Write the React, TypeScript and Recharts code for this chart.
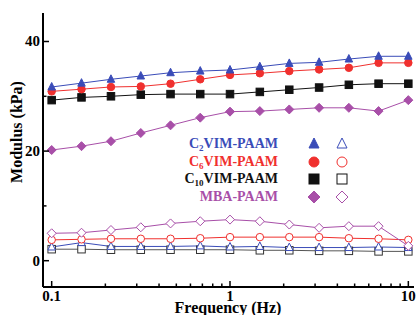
import { LineChart, Line, XAxis, YAxis } from 'recharts';

// frequency points (Hz), 6 per decade
const freqs = [0.1, 0.147, 0.215, 0.316, 0.464, 0.681, 1, 1.47, 2.15, 3.16, 4.64, 6.81, 10];

// storage modulus (filled symbols), kPa
const c2Storage = [31.7, 32.4, 33.1, 33.7, 34.3, 34.6, 34.8, 35.4, 36.0, 36.2, 36.8, 37.3, 37.3];
const c6Storage = [30.9, 31.3, 31.7, 31.8, 32.3, 33.1, 33.9, 34.2, 34.6, 34.9, 35.2, 36.1, 36.1];
const c10Storage = [29.3, 29.8, 30.0, 30.3, 30.4, 30.4, 30.4, 30.8, 31.2, 31.6, 32.1, 32.3, 32.3];
const mbaStorage = [20.2, 20.9, 21.8, 23.3, 24.7, 26.1, 27.2, 27.3, 27.6, 27.9, 27.9, 27.3, 29.3];

// loss modulus (open symbols), kPa
const c2Loss = [2.5, 3.3, 2.6, 2.6, 2.6, 2.7, 2.5, 2.6, 2.4, 2.4, 2.4, 2.5, 2.4];
const c6Loss = [3.8, 3.9, 4.0, 4.0, 4.0, 4.1, 4.3, 4.3, 4.3, 4.3, 4.1, 4.0, 3.8];
const c10Loss = [2.1, 2.1, 2.0, 2.0, 2.0, 2.0, 2.0, 1.9, 1.9, 1.8, 1.8, 1.7, 1.7];
const mbaLoss = [5.0, 5.1, 5.6, 6.1, 6.8, 7.2, 7.5, 7.2, 6.6, 6.0, 6.3, 6.3, 2.7];

const xMajor = [0.1, 1, 10];
const xTicks = [0.1, 0.2, 0.3, 0.4, 0.5, 0.6, 0.7, 0.8, 0.9, 1, 2, 3, 4, 5, 6, 7, 8, 9, 10];
const yMajor = [0, 20, 40];
const yTicks = [0, 10, 20, 30, 40];

const data = freqs.map((f, i) => ({
  f,
  c2s: c2Storage[i], c6s: c6Storage[i], c10s: c10Storage[i], mbas: mbaStorage[i],
  c2l: c2Loss[i], c6l: c6Loss[i], c10l: c10Loss[i], mbal: mbaLoss[i],
}));

const FONT = '"Liberation Serif", "Times New Roman", serif';
const PLOT_LEFT = 43;
const PLOT_BOTTOM = 287;

const BLUE = '#3a4cb8';
const RED = '#f0302e';
const BLACK = '#111111';
const PURPLE = '#a84fa8';

type Kind = 'triangle' | 'circle' | 'square' | 'diamond';

const Marker = ({ cx, cy, kind, color, filled, size }: any) => {
  if (cx == null || cy == null) return null;
  const s = size;
  const fill = filled ? color : '#ffffff';
  if (kind === 'triangle') {
    const pts = `${cx},${cy - s * 0.6} ${cx - s / 2},${cy + s * 0.4} ${cx + s / 2},${cy + s * 0.4}`;
    return <polygon points={pts} fill={fill} stroke={color} strokeWidth={1} />;
  }
  if (kind === 'circle') {
    return <circle cx={cx} cy={cy} r={s / 2} fill={fill} stroke={color} strokeWidth={1} />;
  }
  if (kind === 'square') {
    return <rect x={cx - s / 2} y={cy - s / 2} width={s} height={s} fill={fill} stroke={color} strokeWidth={1} />;
  }
  const d = s * 0.6;
  const pts = `${cx},${cy - d} ${cx + d},${cy} ${cx},${cy + d} ${cx - d},${cy}`;
  return <polygon points={pts} fill={fill} stroke={color} strokeWidth={1} />;
};

const dotFor = (kind: Kind, color: string, filled: boolean) => (p: any) => (
  <Marker key={p.index} cx={p.cx} cy={p.cy} kind={kind} color={color} filled={filled} size={7.5} />
);

const XTick = ({ x, payload }: any) => {
  const major = xMajor.includes(payload.value);
  return (
    <g>
      <line x1={x} x2={x} y1={PLOT_BOTTOM} y2={PLOT_BOTTOM - (major ? 6 : 3.5)} stroke="#000" strokeWidth={1.5} />
      {major && (
        <text x={x} y={PLOT_BOTTOM + 14} textAnchor="middle" fontFamily={FONT} fontWeight="bold" fontSize={15} fill="#000">
          {payload.value}
        </text>
      )}
    </g>
  );
};

const YTick = ({ y, payload }: any) => {
  const major = yMajor.includes(payload.value);
  return (
    <g>
      <line x1={PLOT_LEFT} x2={PLOT_LEFT + (major ? 6 : 3.5)} y1={y} y2={y} stroke="#000" strokeWidth={1.5} />
      {major && (
        <text x={PLOT_LEFT - 3} y={y + 5} textAnchor="end" fontFamily={FONT} fontWeight="bold" fontSize={15} fill="#000">
          {payload.value}
        </text>
      )}
    </g>
  );
};

const legendRows = [
  { main: 'C', sub: '2', rest: 'VIM-PAAM', color: BLUE, kind: 'triangle' as Kind, y: 144 },
  { main: 'C', sub: '6', rest: 'VIM-PAAM', color: RED, kind: 'circle' as Kind, y: 162 },
  { main: 'C', sub: '10', rest: 'VIM-PAAM', color: BLACK, kind: 'square' as Kind, y: 179 },
  { main: '', sub: '', rest: 'MBA-PAAM', color: PURPLE, kind: 'diamond' as Kind, y: 196.5 },
];

const Legend = () => (
  <>
    {legendRows.map((r) => (
      <div key={r.rest + r.sub + r.main}>
        <div
          style={{
            position: 'absolute', right: 416 - 278, top: r.y - 9, lineHeight: '18px', height: 18,
            fontFamily: FONT, fontWeight: 'bold', fontSize: 14, color: r.color, whiteSpace: 'nowrap',
          }}
        >
          {r.main}
          {r.sub && <span style={{ fontSize: 9, position: 'relative', top: 3 }}>{r.sub}</span>}
          {r.rest}
        </div>
        <svg style={{ position: 'absolute', left: 314 - 8, top: r.y - 8 }} width={16} height={16}>
          <Marker cx={8} cy={8} kind={r.kind} color={r.color} filled size={10} />
        </svg>
        <svg style={{ position: 'absolute', left: 342 - 8, top: r.y - 8 }} width={16} height={16}>
          <Marker cx={8} cy={8} kind={r.kind} color={r.color} filled={false} size={10} />
        </svg>
      </div>
    ))}
  </>
);

export default function App() {
  return (
    <div style={{ position: 'absolute', left: 0, top: 0, width: 416, height: 315, background: '#fff', overflow: 'hidden' }}>
      <LineChart width={416} height={315} data={data} margin={{ top: 13, right: 2, bottom: 0, left: 0 }}>
        <XAxis
          dataKey="f"
          type="number"
          scale="log"
          domain={[0.0894, 10.76]}
          allowDataOverflow
          ticks={xTicks}
          interval={0}
          tick={<XTick />}
          tickLine={false}
          axisLine={{ stroke: '#000', strokeWidth: 2 }}
          height={28}
        />
        <XAxis
          xAxisId="top"
          orientation="top"
          type="number"
          domain={[0, 1]}
          tick={false}
          tickLine={false}
          axisLine={{ stroke: '#000', strokeWidth: 2 }}
          height={0}
        />
        <YAxis
          type="number"
          domain={[-4.8, 45.2]}
          allowDataOverflow
          ticks={yTicks}
          interval={0}
          tick={<YTick />}
          tickLine={false}
          axisLine={{ stroke: '#000', strokeWidth: 2 }}
          width={43}
        />
        <YAxis
          yAxisId="right"
          orientation="right"
          type="number"
          domain={[0, 1]}
          tick={false}
          tickLine={false}
          axisLine={{ stroke: '#000', strokeWidth: 2 }}
          width={0}
        />
        <Line dataKey="c10l" stroke="#555" strokeWidth={1} dot={dotFor('square', '#333', false)} isAnimationActive={false} />
        <Line dataKey="c2l" stroke={BLUE} strokeWidth={1} dot={dotFor('triangle', BLUE, false)} isAnimationActive={false} />
        <Line dataKey="c6l" stroke={RED} strokeWidth={1} dot={dotFor('circle', RED, false)} isAnimationActive={false} />
        <Line dataKey="mbal" stroke={PURPLE} strokeWidth={1} dot={dotFor('diamond', PURPLE, false)} isAnimationActive={false} />
        <Line dataKey="mbas" stroke={PURPLE} strokeWidth={1} dot={dotFor('diamond', PURPLE, true)} isAnimationActive={false} />
        <Line dataKey="c10s" stroke={BLACK} strokeWidth={1} dot={dotFor('square', BLACK, true)} isAnimationActive={false} />
        <Line dataKey="c6s" stroke={RED} strokeWidth={1} dot={dotFor('circle', RED, true)} isAnimationActive={false} />
        <Line dataKey="c2s" stroke={BLUE} strokeWidth={1} dot={dotFor('triangle', BLUE, true)} isAnimationActive={false} />
      </LineChart>
      <div
        style={{
          position: 'absolute', left: 0, width: 456, top: 300, textAlign: 'center',
          fontFamily: FONT, fontWeight: 'bold', fontSize: 16, lineHeight: '16px', whiteSpace: 'nowrap',
        }}
      >
        Frequency (Hz)
      </div>
      <div
        style={{
          position: 'absolute', left: 17, top: 132, width: 0, height: 0,
        }}
      >
        <div
          style={{
            position: 'absolute', left: 0, top: 0, transform: 'translate(-50%, -50%) rotate(-90deg)',
            fontFamily: FONT, fontWeight: 'bold', fontSize: 16, lineHeight: '18px', whiteSpace: 'nowrap',
          }}
        >
          Modulus (kPa)
        </div>
      </div>
      <Legend />
    </div>
  );
}
